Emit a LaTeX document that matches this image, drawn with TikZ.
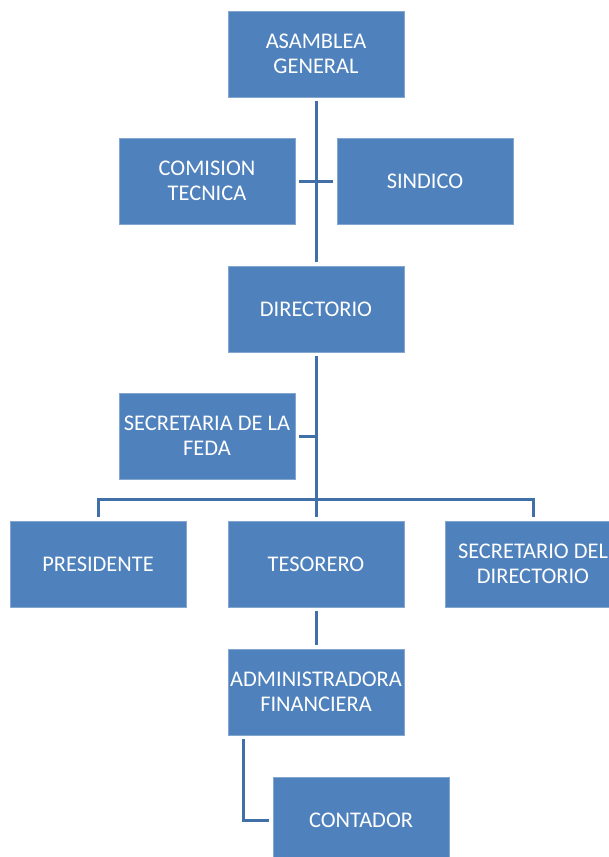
\documentclass[tikz,border=0pt]{standalone}
\usepackage{fontspec}
\setmainfont{Carlito}
\usepackage{tikz}
\definecolor{boxblue}{HTML}{4F81BD}
\definecolor{lineblue}{HTML}{4170A8}
\tikzstyle{orgbox} = [fill=boxblue, draw=boxblue!70!white, line width=0.6pt,
    rectangle, minimum width=176pt, minimum height=86pt, inner sep=1pt,
    align=center, text=white, font=\fontsize{22.4}{25}\selectfont]
\tikzstyle{orgline} = [draw=lineblue, line width=3pt]

\begin{document}
\begin{tikzpicture}[x=1pt, y=-1pt]
    \useasboundingbox (0,0) rectangle (609,857);
    % boxes
    \node [orgbox] (asamblea) at (316,54) {ASAMBLEA\\GENERAL};
    \node [orgbox] (comision) at (207,181) {COMISION\\TECNICA};
    \node [orgbox] (sindico) at (425,181) {SINDICO};
    \node [orgbox] (directorio) at (316,309) {DIRECTORIO};
    \node [orgbox] (secretaria) at (207,436) {SECRETARIA DE LA\\FEDA};
    \node [orgbox] (presidente) at (98,564) {PRESIDENTE};
    \node [orgbox] (tesorero) at (316,564) {TESORERO};
    \node [orgbox] (secretario) at (533,564) {SECRETARIO DEL\\DIRECTORIO};
    \node [orgbox] (admin) at (316,692) {ADMINISTRADORA\\FINANCIERA};
    \node [orgbox] (contador) at (361,820) {CONTADOR};
    \coordinate (bus) at (316,499);
    % connectors
    \draw [orgline] ([yshift=-4pt]asamblea.south) -- ([yshift=4pt]directorio.north);
    \draw [orgline] ([xshift=4pt]comision.east) -- ([xshift=-4pt]sindico.west);
    \draw [orgline] ([yshift=-4pt]directorio.south) -- ([yshift=4pt]tesorero.north);
    \draw [orgline] ([xshift=4pt]secretaria.east) -- (secretaria.east -| directorio.south);
    \draw [orgline] ([yshift=4pt]presidente.north) |- (bus) -| ([yshift=4pt]secretario.north);
    \draw [orgline] ([yshift=-4pt]tesorero.south) -- ([yshift=4pt]admin.north);
    \draw [orgline] ([shift={(16pt,-4pt)}]admin.south west) |- ([xshift=-4pt]contador.west);
\end{tikzpicture}
\end{document}
